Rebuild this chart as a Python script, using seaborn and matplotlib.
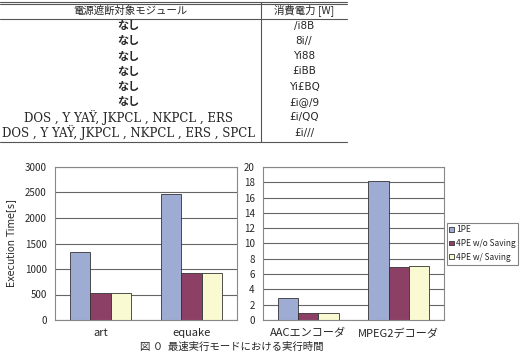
import matplotlib
matplotlib.use('Agg')
import matplotlib.pyplot as plt
from matplotlib.lines import Line2D
import seaborn as sns
import pandas as pd

# table text (as it appears in the reference)
table_header = ['電源遮断対象モジュール', '消費電力 [W]']
table_modules = ['なし', 'なし', 'なし', 'なし', 'なし', 'なし',
                 'DOS , Y YAŸ, JKPCL , NKPCL , ERS',
                 'DOS , Y YAŸ, JKPCL , NKPCL , ERS , SPCL']
table_power = ['/i8B', '8i//', 'Yi88', '£iBB', 'Yi£BQ', '£i@/9', '£i/QQ', '£i///']

# chart data
series = ['1PE', '4PE w/o Saving', '4PE w/ Saving']
spec_apps = ['art', 'equake']
spec_time = [[1330, 530, 535], [2480, 920, 920]]
media_apps = ['AACエンコーダ', 'MPEG2デコーダ']
media_time = [[2.9, 0.9, 0.9], [18.2, 6.9, 7.0]]
colors = ['#95A8DC', '#993366', '#FFFFCC']
caption = '図 ０  最速実行モードにおける実行時間'

sns.set_style('white')
plt.rcParams['font.family'] = ['Noto Sans CJK JP', 'DejaVu Sans']

W, H = 523, 354
fig = plt.figure(figsize=(W / 100, H / 100), dpi=100)


def fx(px):
    return px / W


def fy(py):
    return 1 - py / H


# ---- table ----
def hline(y, x0=0, x1=347, lw=0.8):
    fig.add_artist(Line2D([fx(x0), fx(x1)], [fy(y), fy(y)], color='#555555', lw=lw))


hline(1.5)
hline(3.5)
hline(19)
hline(141.5)
fig.add_artist(Line2D([fx(261), fx(261)], [fy(2), fy(141.5)], color='#555555', lw=0.8))

fig.text(fx(130), fy(10.5), table_header[0], ha='center', va='center', fontsize=7.5)
fig.text(fx(304), fy(10.5), table_header[1], ha='center', va='center', fontsize=7.5)
row_y = [25.5 + 15.3 * i for i in range(len(table_modules))]
for y, mod, pw in zip(row_y, table_modules, table_power):
    bold = mod == 'なし'
    fig.text(fx(128), fy(y), mod, ha='center', va='center',
             fontsize=8 if bold else 8.5, fontweight='bold' if bold else 'normal',
             family=['Noto Sans CJK JP', 'DejaVu Sans'] if bold else ['DejaVu Serif', 'DejaVu Sans'])
    fig.text(fx(304), fy(y), pw, ha='center', va='center', fontsize=7.5,
             family=['DejaVu Sans'])


# ---- bar charts ----
def make_df(apps, vals):
    rows = []
    for app, v in zip(apps, vals):
        for s, val in zip(series, v):
            rows.append({'app': app, 'series': s, 'time': val})
    return pd.DataFrame(rows)


def style_axis(ax, ymax, step):
    ax.set_ylim(0, ymax)
    ax.set_yticks(range(0, ymax + 1, step))
    ax.yaxis.grid(True, color='#666666', lw=0.8)
    ax.set_axisbelow(True)
    ax.set_xlabel('')
    ax.set_ylabel('')
    for sp in ax.spines.values():
        sp.set_color('#888888')
        sp.set_linewidth(0.8)
    ax.tick_params(axis='y', labelsize=7, length=0, pad=6)
    ax.tick_params(axis='x', labelsize=8, length=0, pad=6)


ax1 = fig.add_axes([fx(55), fy(320), fx(237 - 55), (320 - 167) / H])
sns.barplot(data=make_df(spec_apps, spec_time), x='app', y='time', hue='series',
            palette=colors, width=0.67, edgecolor='#333333', linewidth=0.6,
            legend=False, ax=ax1)
style_axis(ax1, 3000, 500)
ax1.set_ylabel('Execution Time[s]', fontsize=7, family=['DejaVu Sans'], labelpad=6)

ax2 = fig.add_axes([fx(263), fy(320), fx(444 - 263), (320 - 167) / H])
sns.barplot(data=make_df(media_apps, media_time), x='app', y='time', hue='series',
            palette=colors, width=0.67, edgecolor='#333333', linewidth=0.6,
            ax=ax2)
style_axis(ax2, 20, 2)

leg = ax2.legend(loc='center left', bbox_to_anchor=(1.005, 0.5), fontsize=6,
                 frameon=True, fancybox=False, handlelength=0.5, handleheight=0.5,
                 handletextpad=0.25, borderpad=0.35, borderaxespad=0.2,
                 labelspacing=0.55)
leg.get_frame().set_edgecolor('#666666')
leg.get_frame().set_linewidth(0.8)

fig.text(fx(140), fy(347), caption, ha='left', va='center', fontsize=7.5)

fig.savefig('out.png', dpi=100)
